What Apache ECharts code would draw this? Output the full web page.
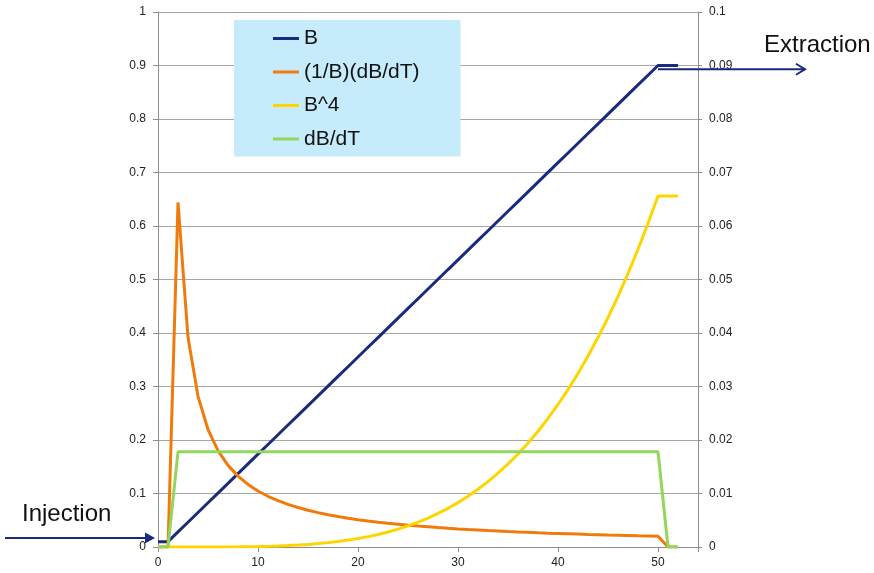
<!DOCTYPE html>
<html>
<head>
<meta charset="utf-8">
<script src="https://cdn.jsdelivr.net/npm/echarts@6/dist/echarts.min.js"></script>
<style>html,body{margin:0;padding:0;background:#fff;}#c{width:874px;height:573px;}</style>
</head>
<body>
<div id="c"></div>
<script>
const seriesNames = ['B', '(1/B)(dB/dT)', 'B^4', 'dB/dT'];
const xTickLabels = ['0', '10', '20', '30', '40', '50'];
const leftTickLabels = ['0', '0.1', '0.2', '0.3', '0.4', '0.5', '0.6', '0.7', '0.8', '0.9', '1'];
const rightTickLabels = ['0', '0.01', '0.02', '0.03', '0.04', '0.05', '0.06', '0.07', '0.08', '0.09', '0.1'];

const xValues = [0,1,2,3,4,5,6,7,8,9,10,11,12,13,14,15,16,17,18,19,20,21,22,23,24,25,26,27,28,29,30,31,32,33,34,35,36,37,38,39,40,41,42,43,44,45,46,47,48,49,50,51,52];

const bValues = [0.01,0.01,0.0282,0.0463,0.0645,0.0827,0.1008,0.1190,0.1371,0.1553,0.1735,0.1916,0.2098,0.2280,0.2461,0.2643,0.2824,0.3006,0.3188,0.3369,0.3551,0.3733,0.3914,0.4096,0.4278,0.4459,0.4641,0.4822,0.5004,0.5186,0.5367,0.5549,0.5731,0.5912,0.6094,0.6276,0.6457,0.6639,0.6820,0.7002,0.7184,0.7365,0.7547,0.7729,0.7910,0.8092,0.8273,0.8455,0.8637,0.8818,0.9,0.9,0.9];

const ratioValues = [0,0,0.644,0.392,0.2816,0.2196,0.1802,0.1526,0.1325,0.1170,0.1047,0.0948,0.0866,0.0797,0.0738,0.0687,0.0643,0.0604,0.0570,0.0539,0.0511,0.0487,0.0464,0.0443,0.0425,0.0407,0.0391,0.0377,0.0363,0.0350,0.0338,0.0327,0.0317,0.0307,0.0298,0.0289,0.0281,0.0274,0.0266,0.0259,0.0253,0.0247,0.0241,0.0235,0.0230,0.0224,0.0220,0.0215,0.0210,0.0206,0.0202,0,0];

const b4Values = [0,0,0.0000006,0.0000046,0.0000173,0.0000468,0.000103,0.000201,0.000353,0.000582,0.000906,0.001348,0.001938,0.002702,0.003669,0.00488,0.00636,0.008165,0.01033,0.01288,0.0159,0.01942,0.02347,0.02815,0.03349,0.03953,0.04639,0.05407,0.0627,0.07233,0.08297,0.09481,0.10788,0.12216,0.13792,0.15514,0.17383,0.19427,0.21634,0.24038,0.26636,0.29423,0.32441,0.35685,0.39148,0.42876,0.46844,0.51104,0.55648,0.60462,0.6561,0.6561,0.6561];

const dbdtValues = [0,0,0.0178,0.0178,0.0178,0.0178,0.0178,0.0178,0.0178,0.0178,0.0178,0.0178,0.0178,0.0178,0.0178,0.0178,0.0178,0.0178,0.0178,0.0178,0.0178,0.0178,0.0178,0.0178,0.0178,0.0178,0.0178,0.0178,0.0178,0.0178,0.0178,0.0178,0.0178,0.0178,0.0178,0.0178,0.0178,0.0178,0.0178,0.0178,0.0178,0.0178,0.0178,0.0178,0.0178,0.0178,0.0178,0.0178,0.0178,0.0178,0.0178,0,0];

// annotation anchors (data space)
const injectionArrowY = 0.017;
const extractionArrowY = 0.893;
const extractionStartX = 50;

const FONT = '"Liberation Sans", Arial, sans-serif';
const colors = ['#1a2a7c', '#f07a0c', '#ffd500', '#92d65e'];

function pairs(vals) { return xValues.map((x, i) => [x, vals[i]]); }

const chart = echarts.init(document.getElementById('c'), null, {renderer: 'canvas'});

const option = {
  animation: false,
  backgroundColor: '#ffffff',
  textStyle: {fontFamily: FONT},
  grid: {left: 158, right: 176, top: 12, bottom: 26, containLabel: false},
  legend: {
    orient: 'vertical',
    left: 234,
    top: 20,
    backgroundColor: '#c6ecfc',
    padding: [8, 41, 7, 39],
    itemWidth: 26,
    itemHeight: 3,
    itemGap: 12.5,
    icon: 'rect',
    data: seriesNames,
    textStyle: {fontSize: 21, color: '#111', fontFamily: FONT}
  },
  xAxis: {
    type: 'value', min: 0, max: 54, interval: 10,
    axisLine: {show: true, lineStyle: {color: '#8c8c8c', width: 1}},
    axisTick: {show: true, length: 5, lineStyle: {color: '#8c8c8c'}},
    splitLine: {show: false},
    axisLabel: {
      fontSize: 12, color: '#222', margin: 10, fontFamily: FONT,
      formatter: v => { const i = xTickLabels.indexOf(String(v)); return i >= 0 ? xTickLabels[i] : ''; }
    }
  },
  yAxis: [
    {
      type: 'value', min: 0, max: 1, interval: 0.1, position: 'left',
      axisLine: {show: true, lineStyle: {color: '#8c8c8c', width: 1}},
      axisTick: {show: true, length: 5, lineStyle: {color: '#8c8c8c'}},
      splitLine: {show: true, lineStyle: {color: '#a6a6a6', width: 1}},
      axisLabel: {
        fontSize: 12, color: '#222', margin: 12, fontFamily: FONT,
        formatter: v => leftTickLabels[Math.round(v * 10)] || ''
      }
    },
    {
      type: 'value', min: 0, max: 0.1, interval: 0.01, position: 'right',
      axisLine: {show: true, lineStyle: {color: '#8c8c8c', width: 1}},
      axisTick: {show: true, length: 4, lineStyle: {color: '#8c8c8c'}},
      splitLine: {show: false},
      axisLabel: {
        fontSize: 12, color: '#222', margin: 11, fontFamily: FONT,
        formatter: v => rightTickLabels[Math.round(v * 100)] || ''
      }
    }
  ],
  series: [
    {name: seriesNames[0], type: 'line', yAxisIndex: 0, data: pairs(bValues), showSymbol: false, symbol: 'none',
     lineStyle: {color: colors[0], width: 3}, itemStyle: {color: colors[0]}, z: 2},
    {name: seriesNames[1], type: 'line', yAxisIndex: 0, data: pairs(ratioValues), showSymbol: false, symbol: 'none',
     lineStyle: {color: colors[1], width: 3}, itemStyle: {color: colors[1]}, z: 3},
    {name: seriesNames[2], type: 'line', yAxisIndex: 0, data: pairs(b4Values), showSymbol: false, symbol: 'none',
     lineStyle: {color: colors[2], width: 3}, itemStyle: {color: colors[2]}, z: 4},
    {name: seriesNames[3], type: 'line', yAxisIndex: 1, data: pairs(dbdtValues), showSymbol: false, symbol: 'none',
     lineStyle: {color: colors[3], width: 3}, itemStyle: {color: colors[3]}, z: 5}
  ]
};
chart.setOption(option);

// annotations positioned from the axes
const injPt = chart.convertToPixel({xAxisIndex: 0, yAxisIndex: 0}, [0, injectionArrowY]);
const extPt = chart.convertToPixel({xAxisIndex: 0, yAxisIndex: 0}, [extractionStartX, extractionArrowY]);
const injY = injPt[1], injTipX = injPt[0] - 3;
const extY = extPt[1], extStartX = extPt[0], extTipX = extStartX + 147;

chart.setOption({
  graphic: [
    {type: 'line', shape: {x1: 5, y1: injY, x2: injTipX - 6, y2: injY}, style: {stroke: colors[0], lineWidth: 2}, z: 10},
    {type: 'polygon', shape: {points: [[injTipX, injY], [injTipX - 10, injY - 5.5], [injTipX - 10, injY + 5.5]]}, style: {fill: colors[0]}, z: 10},
    {type: 'line', shape: {x1: extStartX, y1: extY, x2: extTipX, y2: extY}, style: {stroke: colors[0], lineWidth: 2}, z: 10},
    {type: 'polyline', shape: {points: [[extTipX - 9, extY - 5.5], [extTipX, extY], [extTipX - 9, extY + 5.5]]}, style: {stroke: colors[0], lineWidth: 2, fill: null}, z: 10},
    {type: 'text', left: 22, top: 502, style: {text: 'Injection', font: '24px ' + FONT, fill: '#111'}, z: 10},
    {type: 'text', left: 764, top: 33, style: {text: 'Extraction', font: '24px ' + FONT, fill: '#111'}, z: 10}
  ]
});
</script>
</body>
</html>
